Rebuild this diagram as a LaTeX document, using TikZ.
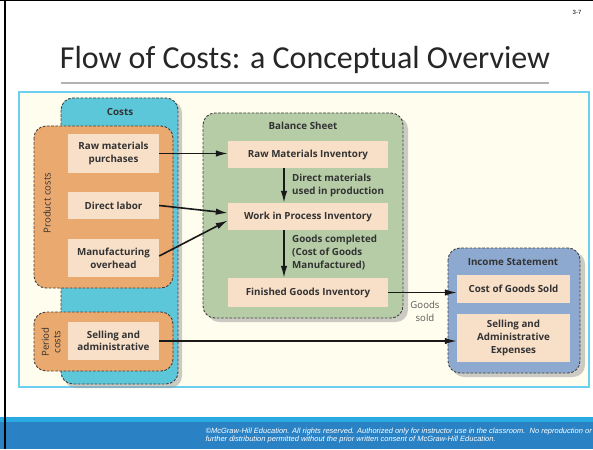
\documentclass[tikz,border=0pt]{standalone}
\usepackage{fontspec}
\setmainfont{Open Sans}
\newfontfamily\titlefont{Carlito}
\newfontfamily\notefont{Liberation Sans}
\usetikzlibrary{arrows.meta}
\definecolor{CostCyan}{HTML}{5CC7D9}
\definecolor{CostOrange}{HTML}{EAA96F}
\definecolor{BoxPeach}{HTML}{F8DFC8}
\definecolor{SheetGreen}{HTML}{B6CCA6}
\definecolor{IncomeBlue}{HTML}{8EA9D0}
\definecolor{PanelCream}{HTML}{FFFDEE}
\definecolor{PanelEdge}{HTML}{6DCFF0}
\definecolor{BarLight}{HTML}{29ABE2}
\definecolor{BarDark}{HTML}{2A82C4}
\definecolor{TextGray}{HTML}{333333}

\begin{document}
\begin{tikzpicture}[x=1pt,y=-1pt,
    panel/.style={draw=black!75,dash pattern=on 2.6pt off 1.6pt,line width=0.9pt,rounded corners=12pt},
    shade/.style={fill=black!40,opacity=0.5,rounded corners=12pt},
    itembox/.style={fill=BoxPeach,text=TextGray,font=\bfseries\fontsize{9.8}{12.6}\selectfont,align=center,inner sep=0pt},
    head/.style={text=TextGray,font=\bfseries\fontsize{9.8}{12}\selectfont},
    side/.style={text=TextGray,font=\fontsize{9.6}{11.6}\selectfont,rotate=90,align=center},
    note/.style={text=TextGray,font=\bfseries\fontsize{9.8}{13}\selectfont,align=left,anchor=west,inner sep=0pt},
    flow/.style={draw=black!90,line width=1.6pt,-{Latex[length=12pt,width=6.5pt]}}]

    \useasboundingbox (0,0) rectangle (593,449);
    \fill[white] (0,0) rectangle (593,449);

    % bottom bar
    \fill[BarLight] (0,417) rectangle (593,422);
    \fill[BarDark] (0,422) rectangle (593,449);
    \node[anchor=east,align=left,text=white,inner sep=0pt,font=\notefont\itshape\fontsize{7.5}{8}\selectfont] (copyright) at (592,436)
        {\textcopyright McGraw-Hill Education. All rights reserved. Authorized only for instructor use in the classroom.\ \ No reproduction or\\further distribution permitted without the prior written consent of McGraw-Hill Education.};

    % slide edges
    \fill[black] (3.5,0) rectangle (6,449);
    \fill[black] (0,0) rectangle (593,1.5);

    % title
    \node[text=black!85,font=\titlefont\fontsize{32}{38}\selectfont] (title) at (305,60) {Flow of Costs: a Conceptual Overview};
    \draw[black!30,line width=1.5pt] (61,83) -- (549,83);
    \node[font=\notefont\fontsize{6}{7}\selectfont] (pagenum) at (577,12) {3-7};

    % figure panel
    \filldraw[draw=PanelEdge,fill=PanelCream,line width=1.2pt] (19,92) rectangle (589,387);

    % cyan box
    \fill[shade] (64,101) rectangle (182,388);
    \filldraw[panel,fill=CostCyan] (61,98) rectangle (178,384);
    \node[head] (costs) at (120,112) {Costs};

    % orange boxes
    \filldraw[panel,fill=CostOrange] (34,126) rectangle (173,288);
    \filldraw[panel,fill=CostOrange] (34,312) rectangle (173,371);
    \node[side] (product) at (47,203) {Product costs};
    \node[side] (period) at (51,342) {Period\\costs};

    \node[itembox,minimum width=91pt,minimum height=39pt] (rmp) at (113.5,153.5) {Raw materials\\purchases};
    \node[itembox,minimum width=91pt,minimum height=27pt] (dl) at (113.5,205.5) {Direct labor};
    \node[itembox,minimum width=91pt,minimum height=38pt] (moh) at (113.5,258) {Manufacturing\\overhead};
    \node[itembox,minimum width=91pt,minimum height=38pt] (sa) at (113.5,341) {Selling and\\administrative};

    % green box
    \fill[shade] (207,117) rectangle (408,322);
    \filldraw[panel,fill=SheetGreen] (203,113) rectangle (403,318);
    \node[head] (balance) at (303,126) {Balance Sheet};

    \node[itembox,minimum width=160pt,minimum height=27pt] (rmi) at (308,154.5) {Raw Materials Inventory};
    \node[itembox,minimum width=160pt,minimum height=27pt] (wip) at (308,216.5) {Work in Process Inventory};
    \node[itembox,minimum width=160pt,minimum height=29pt] (fg) at (308,292.5) {Finished Goods Inventory};

    \node[note] (used) at (292,185) {Direct materials\\used in production};
    \node[note] (done) at (292,253) {Goods completed\\(Cost of Goods\\Manufactured)};

    % blue box
    \fill[shade] (452,252) rectangle (585,377);
    \filldraw[panel,fill=IncomeBlue] (448,248) rectangle (580,373);
    \node[head] (income) at (513,262) {Income Statement};

    \node[itembox,minimum width=113pt,minimum height=28pt] (cogs) at (513.5,289) {Cost of Goods Sold};
    \node[itembox,minimum width=113pt,minimum height=48pt] (sae) at (513.5,338) {Selling and\\Administrative\\Expenses};

    \node[text=black!65,align=center,font=\fontsize{9.6}{13}\selectfont] (sold) at (425,311) {Goods\\sold};

    % flows
    \draw[flow] (rmp.east) -- (rmp.east -| rmi.west);
    \draw[flow] (dl.east) -- ([yshift=3.5pt]wip.west);
    \draw[flow] ([yshift=2pt]moh.east) -- ([yshift=-4pt]wip.west);
    \draw[flow] ([xshift=-24pt]rmi.south) -- ([xshift=-24pt]wip.north);
    \draw[flow] ([xshift=-24pt]wip.south) -- ([xshift=-24pt]fg.north);
    \draw[flow] (fg.east) -- (fg.east -| cogs.west);
    \draw[flow] (sa.east) -- (sa.east -| sae.west);

\end{tikzpicture}
\end{document}
